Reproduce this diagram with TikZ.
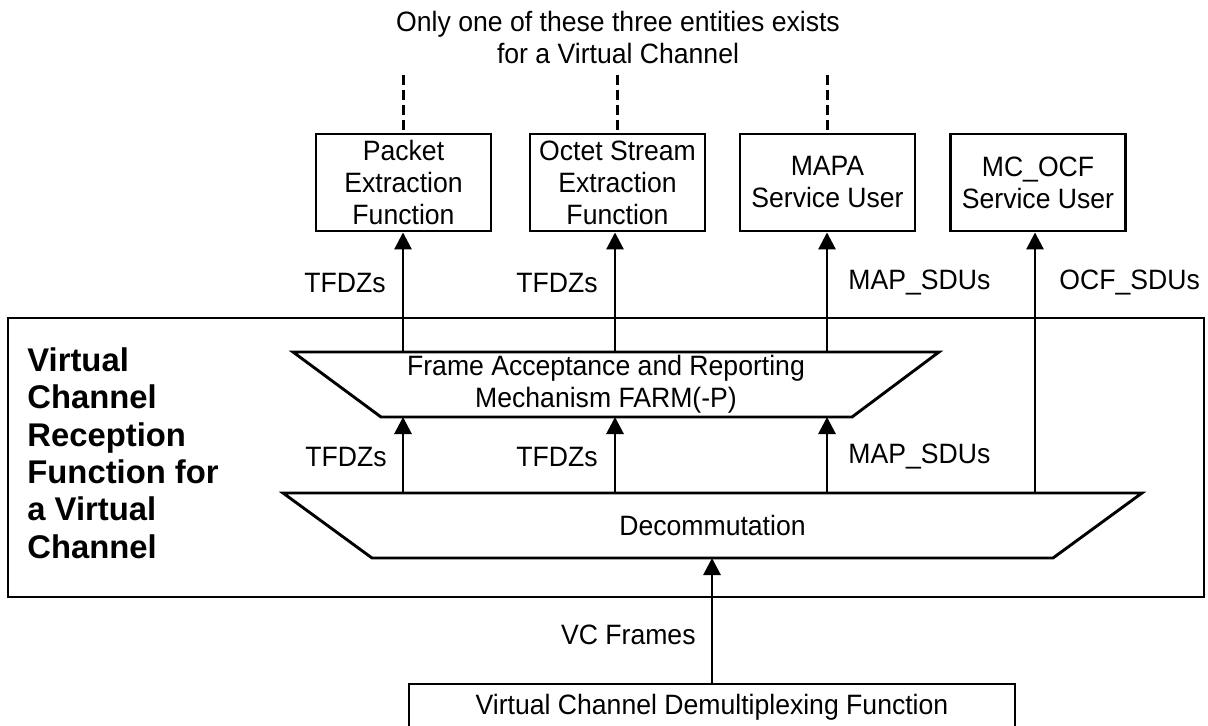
\documentclass[tikz,border=0pt]{standalone}
\usepackage{fontspec}
\setmainfont{Liberation Sans}
\newfontfamily\narrowsans[FakeStretch=0.95]{Liberation Sans}
\usetikzlibrary{arrows.meta}
\newcommand\regfont{\narrowsans\fontsize{14}{16}\selectfont}
\newcommand\bigboldfont{\fontsize{16.4}{18.7}\selectfont\bfseries}
\begin{document}
\begin{tikzpicture}[x=0.5pt,y=-0.5pt,
  lw/.style={line width=1.45pt},
  box/.style={draw,lw,minimum width=87.5pt,minimum height=48.5pt,inner sep=0pt,align=center,font=\regfont},
  arr/.style={lw,-{Triangle[length=8.5pt,width=8.5pt]}},
  lbl/.style={inner sep=0pt,font=\regfont},
  dsh/.style={lw,dash pattern=on 5pt off 2.5pt},
  shp/.style={lw,line join=miter}]
\useasboundingbox (0,0) rectangle (1208,726);

% header
\node[lbl,align=center] (hdr) at (618,37) {Only one of these three entities exists\\for a Virtual Channel};

% top boxes
\node[box] (pkt) at (403.5,182.5) {Packet\\Extraction\\Function};
\node[box] (oct) at (617.5,182.5) {Octet Stream\\Extraction\\Function};
\node[box] (mapa) at (827.5,182.5) {MAPA\\Service User};
\node[box] (ocf) at (1038,182.5) {MC\_OCF\\Service User};

% dashed lines
\coordinate (d1) at (403.5,75);
\coordinate (d2) at (617.5,75);
\coordinate (d3) at (827.5,75);
\draw[dsh] (d1) -- (pkt.north);
\draw[dsh] (d2) -- (oct.north);
\draw[dsh] (d3) -- (mapa.north);

% outer box
\draw[lw] (8,318) rectangle (1204,597);
\node[anchor=west,inner sep=0pt,align=left,font=\bigboldfont] (vcrf) at (27,453) {Virtual\\Channel\\Reception\\Function for\\a Virtual\\Channel};

% FARM trapezoid
\draw[shp] (293,352) -- (939,352) -- (852,417) -- (381,417) -- cycle;
\node[lbl,align=center] (farm) at (606,384) {Frame Acceptance and Reporting\\Mechanism FARM(-P)};

% Decommutation trapezoid
\draw[shp] (283,493) -- (1142,493) -- (1053,558) -- (372,558) -- cycle;
\node[lbl] (decom) at (712.5,525) {Decommutation};

% coordinates on edges
\coordinate (ft1) at (403,352);
\coordinate (ft2) at (615,352);
\coordinate (ft3) at (827,352);
\coordinate (fb1) at (403,417);
\coordinate (fb2) at (615,417);
\coordinate (fb3) at (827,417);
\coordinate (dt1) at (403,493);
\coordinate (dt2) at (615,493);
\coordinate (dt3) at (827,493);
\coordinate (dt4) at (1035,493);
\coordinate (db) at (712,558);

% arrows upper
\draw[arr] (ft1) -- (ft1 |- pkt.south);
\draw[arr] (ft2) -- (ft2 |- oct.south);
\draw[arr] (ft3) -- (ft3 |- mapa.south);
\draw[arr] (dt4) -- (dt4 |- ocf.south);
% arrows middle
\draw[arr] (dt1) -- (fb1);
\draw[arr] (dt2) -- (fb2);
\draw[arr] (dt3) -- (fb3);

% labels upper
\node[lbl,anchor=east] (l1) at (386,283) {TFDZs};
\node[lbl,anchor=east] (l2) at (598,283) {TFDZs};
\node[lbl,anchor=west] (l3) at (848,283) {MAP\_SDUs};
\node[lbl,anchor=west] (l4) at (1059,283) {OCF\_SDUs};
% labels middle
\node[lbl,anchor=east] (m1) at (387,457) {TFDZs};
\node[lbl,anchor=east] (m2) at (598,457) {TFDZs};
\node[lbl,anchor=west] (m3) at (848,457) {MAP\_SDUs};

% bottom box
\node[draw,lw,minimum width=303pt,minimum height=23pt,inner sep=0pt,font=\regfont] (vcd) at (712,707) {Virtual Channel Demultiplexing Function};
\draw[arr] (vcd.north) -- (db);
\node[lbl,anchor=east] (vcf) at (696,635) {VC Frames};
\end{tikzpicture}
\end{document}
